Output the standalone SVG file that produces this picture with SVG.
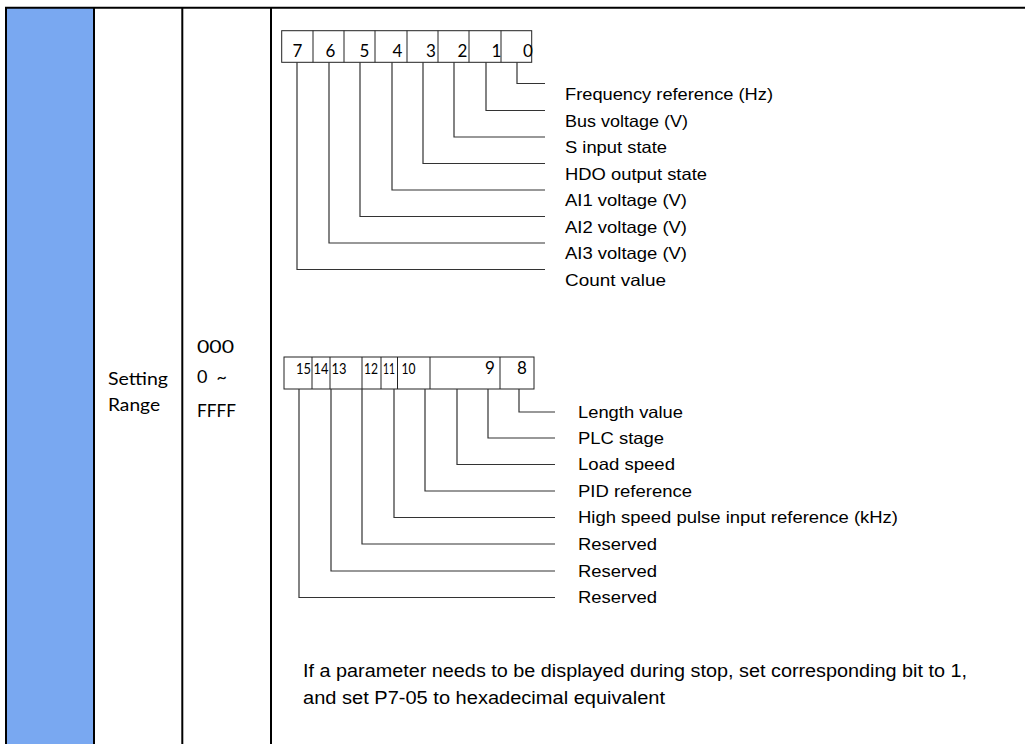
<svg xmlns="http://www.w3.org/2000/svg" width="1025" height="744" viewBox="0 0 1025 744">
<style>
.grid{stroke:#000;stroke-width:2;fill:none}
.box{fill:#fff;stroke:#222;stroke-width:1}
.conn{fill:none;stroke:#333;stroke-width:1.2}
.dig{font-family:Lato,"Open Sans",sans-serif;font-size:17px;fill:#000;text-anchor:middle}
.dig2{font-family:Lato,"Open Sans",sans-serif;font-size:16px;fill:#000;text-anchor:middle}
.cell{font-family:Lato,"Open Sans",sans-serif;font-size:18px;fill:#000}
.lbl{font-family:"Liberation Sans",Arial,sans-serif;font-size:16.5px;fill:#000}
.para{font-family:"Liberation Sans",Arial,sans-serif;font-size:17.5px;fill:#000}
</style>
<rect width="1025" height="744" fill="#fff"/>
<g id="table">
<rect x="7" y="8" width="86" height="736" fill="#79A8F1"/>
<line class="grid" x1="5" y1="7.7" x2="1025" y2="7.7"/>
<line class="grid" x1="6" y1="7" x2="6" y2="744"/>
<line class="grid" x1="94" y1="7" x2="94" y2="744"/>
<line class="grid" x1="182.3" y1="7" x2="182.3" y2="744"/>
<line class="grid" x1="271" y1="7" x2="271" y2="744"/>
</g>
<g id="cell-name">
<text class="cell" x="108" y="385" textLength="60" lengthAdjust="spacingAndGlyphs">Setting</text>
<text class="cell" x="108" y="411" textLength="52" lengthAdjust="spacingAndGlyphs">Range</text>
</g>
<g id="cell-range">
<text class="cell" x="197" y="353" textLength="37" lengthAdjust="spacingAndGlyphs">000</text>
<text class="cell" x="197" y="383" textLength="30" xml:space="preserve">0 ~</text>
<text class="cell" x="197" y="417" textLength="39" lengthAdjust="spacingAndGlyphs">FFFF</text>
</g>
<g id="bits-low">
<rect class="box" x="281.7" y="30.7" width="250" height="31.6"/>
<path class="box" d="M313 30.7V62.3M344 30.7V62.3M375 30.7V62.3M407 30.7V62.3M438 30.7V62.3M469 30.7V62.3M501 30.7V62.3"/>
<text class="dig" x="297.5" y="57">7</text>
<text class="dig" x="330.5" y="57">6</text>
<text class="dig" x="364.5" y="57">5</text>
<text class="dig" x="397.5" y="57">4</text>
<text class="dig" x="431" y="57">3</text>
<text class="dig" x="462.5" y="57">2</text>
<text class="dig" x="496.5" y="57">1</text>
<text class="dig" x="528" y="57">0</text>
</g>
<g id="bits-high">
<rect class="box" x="284" y="357" width="250" height="32"/>
<path class="box" d="M312 357V389M330 357V389M362 357V389M381 357V389M397.5 357V389M430 357V389M500 357V389"/>
<text class="dig2" x="303.5" y="374" textLength="15" lengthAdjust="spacingAndGlyphs">15</text>
<text class="dig2" x="321" y="374" textLength="15" lengthAdjust="spacingAndGlyphs">14</text>
<text class="dig2" x="339" y="374" textLength="15" lengthAdjust="spacingAndGlyphs">13</text>
<text class="dig2" x="371" y="374" textLength="14" lengthAdjust="spacingAndGlyphs">12</text>
<text class="dig2" x="389" y="374" textLength="12" lengthAdjust="spacingAndGlyphs">11</text>
<text class="dig2" x="408.5" y="374" textLength="14" lengthAdjust="spacingAndGlyphs">10</text>
<text class="dig" x="490" y="374">9</text>
<text class="dig" x="522" y="374">8</text>
</g>
<g id="connectors">
<path class="conn" d="M517 62.3V83.5H545"/>
<path class="conn" d="M486 62.3V110.5H545"/>
<path class="conn" d="M454 62.3V137H545"/>
<path class="conn" d="M423 62.3V163.5H545"/>
<path class="conn" d="M392 62.3V190H545"/>
<path class="conn" d="M360 62.3V216.5H545"/>
<path class="conn" d="M329 62.3V243H545"/>
<path class="conn" d="M297 62.3V269.5H545"/>
<path class="conn" d="M519 389V412H555"/>
<path class="conn" d="M488 389V438H555"/>
<path class="conn" d="M457 389V464.5H555"/>
<path class="conn" d="M425 389V491H555"/>
<path class="conn" d="M394 389V517.5H555"/>
<path class="conn" d="M362 389V544H555"/>
<path class="conn" d="M331 389V571H555"/>
<path class="conn" d="M299 389V597.5H555"/>
</g>
<g id="labels-low">
<text class="lbl" x="565" y="100" textLength="208" lengthAdjust="spacingAndGlyphs">Frequency reference (Hz)</text>
<text class="lbl" x="565" y="126.5" textLength="123" lengthAdjust="spacingAndGlyphs">Bus voltage (V)</text>
<text class="lbl" x="565" y="153" textLength="102" lengthAdjust="spacingAndGlyphs">S input state</text>
<text class="lbl" x="565" y="179.5" textLength="142" lengthAdjust="spacingAndGlyphs">HDO output state</text>
<text class="lbl" x="565" y="206" textLength="122" lengthAdjust="spacingAndGlyphs">AI1 voltage (V)</text>
<text class="lbl" x="565" y="232.5" textLength="122" lengthAdjust="spacingAndGlyphs">AI2 voltage (V)</text>
<text class="lbl" x="565" y="259" textLength="122" lengthAdjust="spacingAndGlyphs">AI3 voltage (V)</text>
<text class="lbl" x="565" y="285.5" textLength="101" lengthAdjust="spacingAndGlyphs">Count value</text>
</g>
<g id="labels-high">
<text class="lbl" x="578" y="417.5" textLength="105" lengthAdjust="spacingAndGlyphs">Length value</text>
<text class="lbl" x="578" y="443.5" textLength="86" lengthAdjust="spacingAndGlyphs">PLC stage</text>
<text class="lbl" x="578" y="470" textLength="97" lengthAdjust="spacingAndGlyphs">Load speed</text>
<text class="lbl" x="578" y="496.5" textLength="114" lengthAdjust="spacingAndGlyphs">PID reference</text>
<text class="lbl" x="578" y="523" textLength="320" lengthAdjust="spacingAndGlyphs">High speed pulse input reference (kHz)</text>
<text class="lbl" x="578" y="549.5" textLength="79" lengthAdjust="spacingAndGlyphs">Reserved</text>
<text class="lbl" x="578" y="576.5" textLength="79" lengthAdjust="spacingAndGlyphs">Reserved</text>
<text class="lbl" x="578" y="603" textLength="79" lengthAdjust="spacingAndGlyphs">Reserved</text>
</g>
<g id="note">
<text class="para" x="303" y="677" textLength="664" lengthAdjust="spacingAndGlyphs">If a parameter needs to be displayed during stop, set corresponding bit to 1,</text>
<text class="para" x="303" y="704" textLength="362" lengthAdjust="spacingAndGlyphs">and set P7-05 to hexadecimal equivalent</text>
</g>
</svg>
